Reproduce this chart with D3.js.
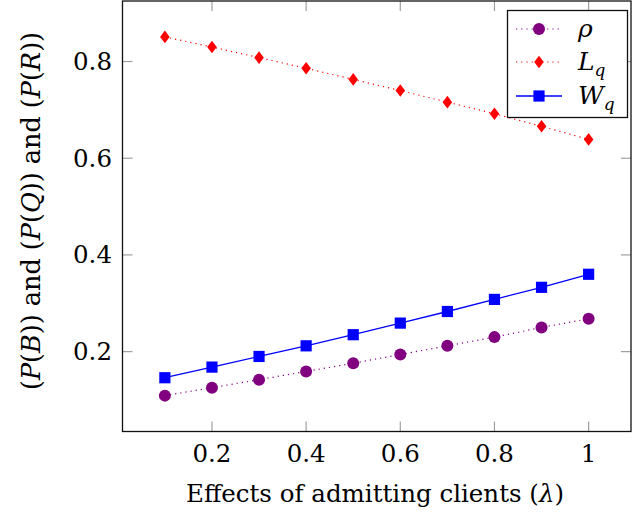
<!DOCTYPE html>
<html><head><meta charset="utf-8">
<script src="https://cdn.jsdelivr.net/npm/d3@7"></script>
<style>body{margin:0;background:#fff}svg{display:block}text{font-family:"DejaVu Serif","Liberation Serif",serif;fill:#000}</style>
</head><body>
<svg id="c" width="633" height="516"></svg>
<script>
const lambda = [0.1,0.2,0.3,0.4,0.5,0.6,0.7,0.8,0.9,1.0];
const rho = [0.109,0.1255,0.142,0.159,0.176,0.194,0.212,0.230,0.250,0.268];
const Lq  = [0.851,0.830,0.808,0.786,0.763,0.740,0.716,0.692,0.666,0.639];
const Wq  = [0.146,0.168,0.190,0.212,0.235,0.259,0.283,0.308,0.333,0.360];
const xTicks = [0.2,0.4,0.6,0.8,1];
const yTicks = [0.2,0.4,0.6,0.8];

const svg = d3.select("#c");
const L=122.5, R=631, T=1, B=431.5;
const xs=[d3.min(lambda),d3.max(lambda)], xsp=xs[1]-xs[0];
const all=rho.concat(Lq,Wq), ys=[d3.min(all),d3.max(all)], ysp=ys[1]-ys[0];
const x=d3.scaleLinear().domain([xs[0]-0.1*xsp, xs[1]+0.1*xsp]).range([L,R]);
const y=d3.scaleLinear().domain([ys[0]-0.1*ysp, ys[1]+0.1*ysp]).range([B,T]);

const FS=24.5;
// ticks (inward, both sides)
const tk=svg.append("g").attr("stroke","#a0a0a0").attr("stroke-width",1.2);
xTicks.forEach(v=>{
  tk.append("line").attr("x1",x(v)).attr("x2",x(v)).attr("y1",B).attr("y2",B-10);
  tk.append("line").attr("x1",x(v)).attr("x2",x(v)).attr("y1",T).attr("y2",T+10);
});
yTicks.forEach(v=>{
  tk.append("line").attr("y1",y(v)).attr("y2",y(v)).attr("x1",L).attr("x2",L+10);
  tk.append("line").attr("y1",y(v)).attr("y2",y(v)).attr("x1",R).attr("x2",R-10);
});
// frame
svg.append("rect").attr("x",L).attr("y",T).attr("width",R-L).attr("height",B-T)
  .attr("fill","none").attr("stroke","#111").attr("stroke-width",1.3);

// tick labels
svg.append("g").selectAll("text").data(xTicks).join("text")
  .attr("x",d=>x(d)).attr("y",462).attr("text-anchor","middle").attr("font-size",FS)
  .text(d=>d3.format("")(d));
svg.append("g").selectAll("text").data(yTicks).join("text")
  .attr("x",112).attr("y",d=>y(d)+8.5).attr("text-anchor","end").attr("font-size",FS)
  .text(d=>d.toFixed(1));

// axis labels
const xl=svg.append("text").attr("x",375).attr("y",502).attr("text-anchor","middle").attr("font-size",FS);
xl.append("tspan").text("Effects of admitting clients (");
xl.append("tspan").attr("font-style","italic").text("λ");
xl.append("tspan").text(")");
const yl=svg.append("text").attr("transform","translate(40,211) rotate(-90)").attr("text-anchor","middle").attr("font-size",25.5);
[["(",0],["P",1],["(",0],["B",1],[")) and (",0],["P",1],["(",0],["Q",1],[")) and (",0],["P",1],["(",0],["R",1],["))",0]]
  .forEach(([t,i])=>yl.append("tspan").attr("font-style",i?"italic":"normal").text(t));

// series
const line=d3.line().x((d,i)=>x(lambda[i])).y(d=>y(d));
const series=[
  {vals:rho,color:"#800080",dash:"1.2 4",sw:1.2,mark:"circle"},
  {vals:Lq,color:"#ff0000",dash:"1.2 4",sw:1.2,mark:"diamond"},
  {vals:Wq,color:"#0000ff",dash:null,sw:1.3,mark:"square"}
];
function drawMark(g,type,cx,cy,color){
  if(type==="circle") g.append("circle").attr("cx",cx).attr("cy",cy).attr("r",6).attr("fill",color);
  else if(type==="diamond") g.append("path").attr("d",`M${cx},${cy-6.3}L${cx+4.8},${cy}L${cx},${cy+6.3}L${cx-4.8},${cy}Z`).attr("fill",color);
  else g.append("rect").attr("x",cx-5.6).attr("y",cy-5.6).attr("width",11.2).attr("height",11.2).attr("fill",color);
}
series.forEach(s=>{
  svg.append("path").attr("d",line(s.vals)).attr("fill","none").attr("stroke",s.color)
    .attr("stroke-width",s.sw).attr("stroke-dasharray",s.dash);
  const g=svg.append("g");
  s.vals.forEach((v,i)=>drawMark(g,s.mark,x(lambda[i]),y(v),s.color));
});

// legend
const lg=svg.append("g");
lg.append("rect").attr("x",507.5).attr("y",10.5).attr("width",120).attr("height",107)
  .attr("fill","#fff").attr("stroke","#111").attr("stroke-width",1.3);
const lnames=[["ρ",""],["L","q"],["W","q"]];
const ly=[29,62,96];
series.forEach((s,i)=>{
  lg.append("line").attr("x1",516).attr("x2",562).attr("y1",ly[i]).attr("y2",ly[i])
    .attr("stroke",s.color).attr("stroke-width",s.sw).attr("stroke-dasharray",s.dash);
  drawMark(lg,s.mark,539,ly[i],s.color);
  const t=lg.append("text").attr("x",578).attr("y",ly[i]+8).attr("font-size",25).attr("font-style","italic");
  t.append("tspan").text(lnames[i][0]);
  if(lnames[i][1]) t.append("tspan").attr("font-size",17).attr("dy",6).text(lnames[i][1]);
});
</script>
</body></html>
